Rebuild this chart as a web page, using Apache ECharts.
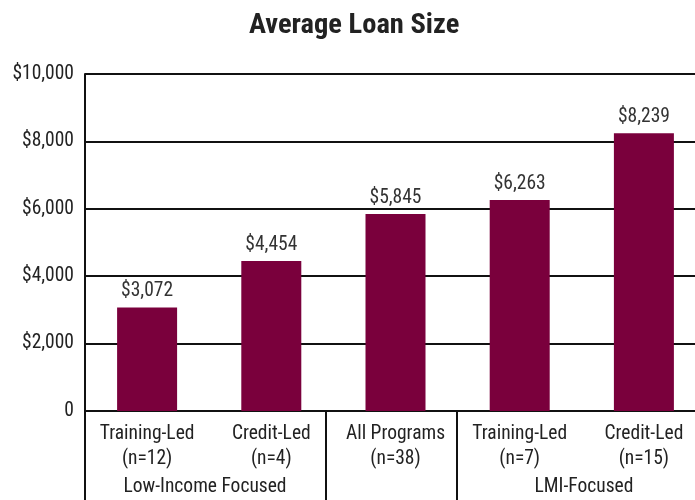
<!DOCTYPE html>
<html>
<head>
<meta charset="utf-8">
<script src="https://cdn.jsdelivr.net/npm/echarts@6/dist/echarts.min.js"></script>
<style>
  html, body { margin: 0; padding: 0; background: #fff; }
  #chart { width: 695px; height: 500px; }
</style>
</head>
<body>
<div id="chart"></div>
<script>
// Program types, sample sizes and average loan size (USD)
const categories = ['Training-Led', 'Credit-Led', 'All Programs', 'Training-Led', 'Credit-Led'];
const sampleSizes = [12, 4, 38, 7, 15];
const avgLoan = [3072, 4454, 5845, 6263, 8239];
const groupLabels = ['Low-Income Focused', 'LMI-Focused'];
const yTicks = [0, 2000, 4000, 6000, 8000, 10000];

const FONT = "'Roboto Condensed', 'DejaVu Sans Condensed', sans-serif";
const BAR = '#7a003c';

const chart = echarts.init(document.getElementById('chart'));

function money(v) {
  return v === 0 ? '0' : '$' + v.toLocaleString('en-US');
}

const option = {
  animation: false,
  title: {
    text: 'Average Loan Size',
    left: 244, top: 6,
    textStyle: { fontFamily: FONT, fontWeight: 'bold', fontSize: 28.5, color: '#222' }
  },
  // the plot runs past the right edge of the canvas
  grid: { left: 85, width: 621, top: 74, bottom: 89, outerBoundsMode: 'none' },
  xAxis: {
    type: 'category',
    data: categories.map((c, i) => c + '\n(n=' + sampleSizes[i] + ')'),
    axisLine: { lineStyle: { color: '#111', width: 2 } },
    axisTick: { show: false },
    axisLabel: {
      interval: 0, margin: 11, lineHeight: 25,
      fontFamily: FONT, fontSize: 19.5, color: '#222'
    }
  },
  yAxis: {
    type: 'value',
    min: yTicks[0], max: yTicks[yTicks.length - 1], interval: 2000,
    axisLine: { show: true, lineStyle: { color: '#111', width: 2 } },
    axisTick: { show: false },
    splitLine: { lineStyle: { color: '#111', width: 2 } },
    axisLabel: {
      margin: 11, formatter: money,
      fontFamily: FONT, fontSize: 19.5, color: '#222'
    }
  },
  series: [{
    type: 'bar',
    data: avgLoan,
    barWidth: 60,
    itemStyle: { color: BAR },
    label: {
      show: true, position: 'top', distance: 6,
      formatter: p => money(p.value),
      fontFamily: FONT, fontSize: 19.5, color: '#333'
    }
  }]
};
chart.setOption(option);

// Group dividers and group captions beneath the axis
const axisY = chart.convertToPixel({ gridIndex: 0 }, [0, 0])[1];
const dividers = [85, 326, 457];
const captionX = [205, 584];
chart.setOption({
  graphic: [
    ...dividers.map(x => ({
      type: 'line', silent: true,
      shape: { x1: x, y1: axisY, x2: x, y2: 500 },
      style: { stroke: '#111', lineWidth: 2 }
    })),
    ...groupLabels.map((t, i) => ({
      type: 'text', silent: true,
      x: captionX[i], y: 487,
      style: {
        text: t, fontFamily: FONT, fontSize: 19.5, fill: '#222',
        textAlign: 'center', textVerticalAlign: 'middle'
      }
    }))
  ]
});
</script>
</body>
</html>
